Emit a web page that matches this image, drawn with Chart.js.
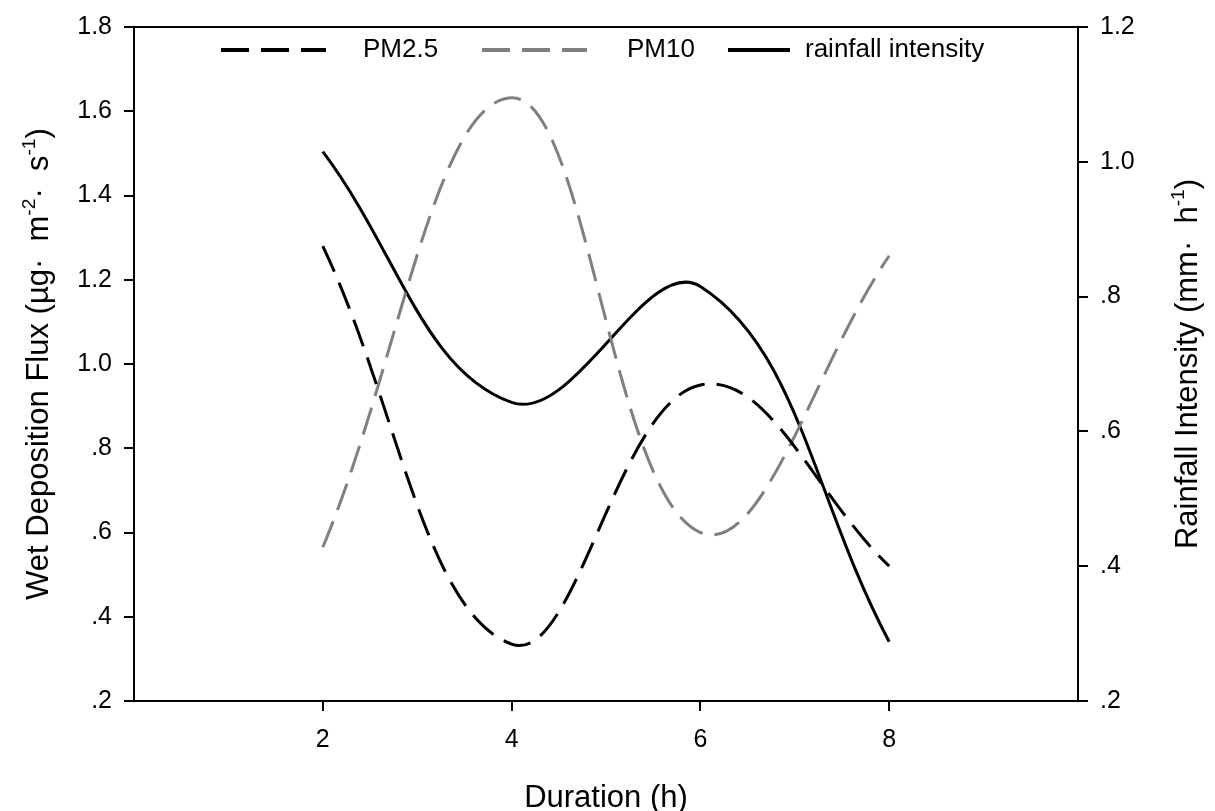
<!DOCTYPE html>
<html>
<head>
<meta charset="utf-8">
<script src="https://cdn.jsdelivr.net/npm/chart.js@4.4.1/dist/chart.umd.min.js"></script>
<style>
  html, body { margin: 0; padding: 0; background: #fff; }
</style>
</head>
<body>
<canvas id="chart" width="1215" height="811"></canvas>
<script>
// Values
const durations = [2, 4, 6, 8];
const pm25 = [1.28, 0.335, 0.95, 0.52];
const pm10 = [0.565, 1.632, 0.60, 1.257];
const rainfall = [1.015, 0.643, 0.815, 0.288];

const seriesNames = ['PM2.5', 'PM10', 'rainfall intensity'];

const xTickValues = [2, 4, 6, 8];
const xTickLabels = ['2', '4', '6', '8'];
const leftTickValues = [0.2, 0.4, 0.6, 0.8, 1.0, 1.2, 1.4, 1.6, 1.8];
const leftTickLabels = ['.2', '.4', '.6', '.8', '1.0', '1.2', '1.4', '1.6', '1.8'];
const rightTickValues = [0.2, 0.4, 0.6, 0.8, 1.0, 1.2];
const rightTickLabels = ['.2', '.4', '.6', '.8', '1.0', '1.2'];

const FONT = 'Arial, "Liberation Sans", sans-serif';
const GRAY = '#808080';
const DASH = [28, 12];

// Draws a text made of parts, some of them superscript, centred at (cx, cy)
function drawRich(ctx, parts, cx, cy, angle, size){
    ctx.save();
    ctx.translate(cx, cy);
    ctx.rotate(angle);
    ctx.fillStyle = '#000';
    ctx.textBaseline = 'alphabetic';
    ctx.textAlign = 'left';
    let total = 0;
    parts.forEach(p => {
        ctx.font = (p.sup ? size * 0.62 : size) + 'px ' + FONT;
        p.w = ctx.measureText(p.t).width;
        total += p.w;
    });
    let x = -total / 2;
    const base = size * 0.36;
    parts.forEach(p => {
        ctx.font = (p.sup ? size * 0.62 : size) + 'px ' + FONT;
        ctx.fillText(p.t, x, p.sup ? base - size * 0.42 : base);
        x += p.w;
    });
    ctx.restore();
}

const extras = {
    id: 'extras',
    afterDraw(chart){
        const ctx = chart.ctx;
        const a = chart.chartArea;
        // top frame line
        ctx.save();
        ctx.strokeStyle = '#000';
        ctx.lineWidth = 2;
        ctx.beginPath();
        ctx.moveTo(a.left - 1, a.top);
        ctx.lineTo(a.right + 1, a.top);
        ctx.stroke();
        ctx.restore();

        // axis titles
        drawRich(ctx, [
            {t: 'Wet Deposition Flux (µg·  m'}, {t: '-2', sup: true},
            {t: '·  s'}, {t: '-1', sup: true}, {t: ')'}
        ], 37, (a.top + a.bottom) / 2, -Math.PI / 2, 31);
        drawRich(ctx, [
            {t: 'Rainfall Intensity (mm·  h'}, {t: '-1', sup: true}, {t: ')'}
        ], 1186, (a.top + a.bottom) / 2, -Math.PI / 2, 31);
        drawRich(ctx, [{t: 'Duration (h)'}], (a.left + a.right) / 2, 796, 0, 31);

        // legend
        const items = [
            {x1: 221, x2: 326, tx: 363, color: '#000', dash: DASH},
            {x1: 482, x2: 587, tx: 627, color: GRAY, dash: DASH},
            {x1: 728, x2: 790, tx: 805, color: '#000', dash: []}
        ];
        const ly = 50;
        ctx.save();
        items.forEach((it, i) => {
            ctx.strokeStyle = it.color;
            ctx.lineWidth = 4;
            ctx.setLineDash(it.dash);
            ctx.beginPath();
            ctx.moveTo(it.x1, ly);
            ctx.lineTo(it.x2, ly);
            ctx.stroke();
            ctx.setLineDash([]);
            ctx.fillStyle = '#000';
            ctx.font = '26px ' + FONT;
            ctx.textBaseline = 'middle';
            ctx.textAlign = 'left';
            ctx.fillText(seriesNames[i], it.tx, ly);
        });
        ctx.restore();
    }
};

function axisStyle(){
    return {
        border: {display: true, color: '#000', width: 2},
        grid: {drawOnChartArea: false, drawTicks: true, tickLength: 10, color: '#000', lineWidth: 2},
        ticks: {color: '#000', font: {family: FONT, size: 25}, padding: 12}
    };
}

const xAxis = Object.assign(axisStyle(), {
    type: 'linear', position: 'bottom', min: 0, max: 10,
    afterBuildTicks: s => { s.ticks = xTickValues.map(v => ({value: v})); },
    afterFit: s => { s.height = 110; }
});
xAxis.ticks.callback = (v, i) => xTickLabels[i];
xAxis.ticks.padding = 14;

const yAxis = Object.assign(axisStyle(), {
    type: 'linear', position: 'left', min: 0.2, max: 1.8,
    afterBuildTicks: s => { s.ticks = leftTickValues.map(v => ({value: v})); },
    afterFit: s => { s.width = 134; }
});
yAxis.ticks.callback = (v, i) => leftTickLabels[i];

const y2Axis = Object.assign(axisStyle(), {
    type: 'linear', position: 'right', min: 0.2, max: 1.2,
    afterBuildTicks: s => { s.ticks = rightTickValues.map(v => ({value: v})); },
    afterFit: s => { s.width = 137; }
});
y2Axis.ticks.callback = (v, i) => rightTickLabels[i];

function points(ys){
    return durations.map((d, i) => ({x: d, y: ys[i]}));
}

new Chart(document.getElementById('chart').getContext('2d'), {
    type: 'line',
    data: {
        datasets: [
            {label: seriesNames[0], data: points(pm25), yAxisID: 'y', borderColor: '#000', borderDash: DASH},
            {label: seriesNames[1], data: points(pm10), yAxisID: 'y', borderColor: GRAY, borderDash: DASH},
            {label: seriesNames[2], data: points(rainfall), yAxisID: 'y2', borderColor: '#000', borderDash: []}
        ]
    },
    options: {
        responsive: false,
        animation: false,
        devicePixelRatio: 1,
        layout: {padding: {top: 22, left: 0, right: 0, bottom: 0}},
        elements: {
            line: {borderWidth: 3, tension: 0.4, fill: false, borderCapStyle: 'butt'},
            point: {radius: 0, hoverRadius: 0}
        },
        scales: {x: xAxis, y: yAxis, y2: y2Axis},
        plugins: {legend: {display: false}, tooltip: {enabled: false}}
    },
    plugins: [extras]
});
</script>
</body>
</html>
